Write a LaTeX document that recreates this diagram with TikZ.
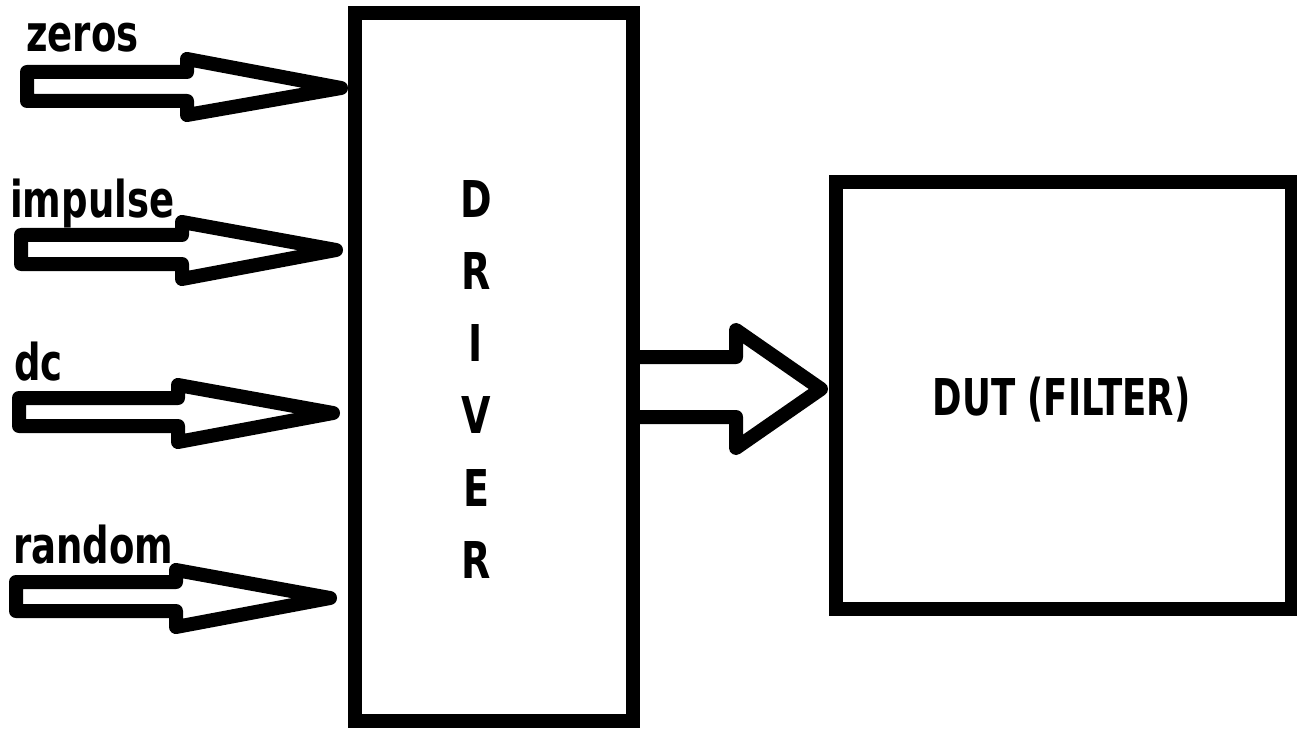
\documentclass[tikz,border=0pt]{standalone}
\usepackage{fontspec}
\setmainfont{DejaVu Sans}
\usepackage{graphicx}
\newcommand\sqz[2]{\scalebox{#1}[1]{#2}}
\begin{document}
\begin{tikzpicture}[x=1pt,y=-1pt,
  boxstyle/.style={draw=black, line width=14pt, inner sep=0pt},
  blockarrow/.style={draw=black, line width=14pt, line join=round},
  lbl/.style={inner sep=0pt, font=\fontsize{50.75}{60}\selectfont\bfseries}]
\useasboundingbox (0,0) rectangle (1297,735);
\fill[white] (0,0) rectangle (1297,735);
% boxes
\node[boxstyle, minimum width=278pt, minimum height=708pt] (driver) at (493.5,367) {};
\node[boxstyle, minimum width=456.5pt, minimum height=426.5pt] (dut) at (1063.75,395.25) {};
% driver letters
\node[lbl, anchor=base] (d1) at (476,218) {\sqz{0.75}{D}};
\node[lbl, anchor=base] (d2) at (476,289) {\sqz{0.75}{R}};
\node[lbl, anchor=base] (d3) at (476,361) {\sqz{0.75}{I}};
\node[lbl, anchor=base] (d4) at (476,433) {\sqz{0.75}{V}};
\node[lbl, anchor=base] (d5) at (476,506) {\sqz{0.75}{E}};
\node[lbl, anchor=base] (d6) at (476,578) {\sqz{0.75}{R}};
\node[lbl, anchor=base] (dutlabel) at (1061.5,415) {\sqz{0.70}{DUT (FILTER)}};
% input labels
\node[lbl, anchor=base west] (zeros) at (26,52) {\sqz{0.73}{zeros}};
\node[lbl, anchor=base west] (impulse) at (10,218) {\sqz{0.73}{impulse}};
\node[lbl, anchor=base west] (dc) at (14,380) {\sqz{0.73}{dc}};
\node[lbl, anchor=base west] (random) at (13,563) {\sqz{0.73}{random}};
% input block arrows
\draw[blockarrow] (27,72) -- (187,72) -- (187,59) -- (341,88) -- (187,115) -- (187,101) -- (27,101) -- cycle;
\draw[blockarrow] (21,235) -- (182,235) -- (182,222) -- (336,250) -- (182,279) -- (182,264) -- (21,264) -- cycle;
\draw[blockarrow] (19,398) -- (178,398) -- (178,385) -- (333,413) -- (178,442) -- (178,426) -- (19,426) -- cycle;
\draw[blockarrow] (16,582) -- (176,582) -- (176,570) -- (330,598) -- (176,627) -- (176,611) -- (16,611) -- cycle;
% driver to DUT block arrow
\draw[blockarrow] (632.5,357) -- (736,357) -- (736,330) -- (821,389) -- (736,448) -- (736,417) -- (632.5,417);
\end{tikzpicture}
\end{document}
